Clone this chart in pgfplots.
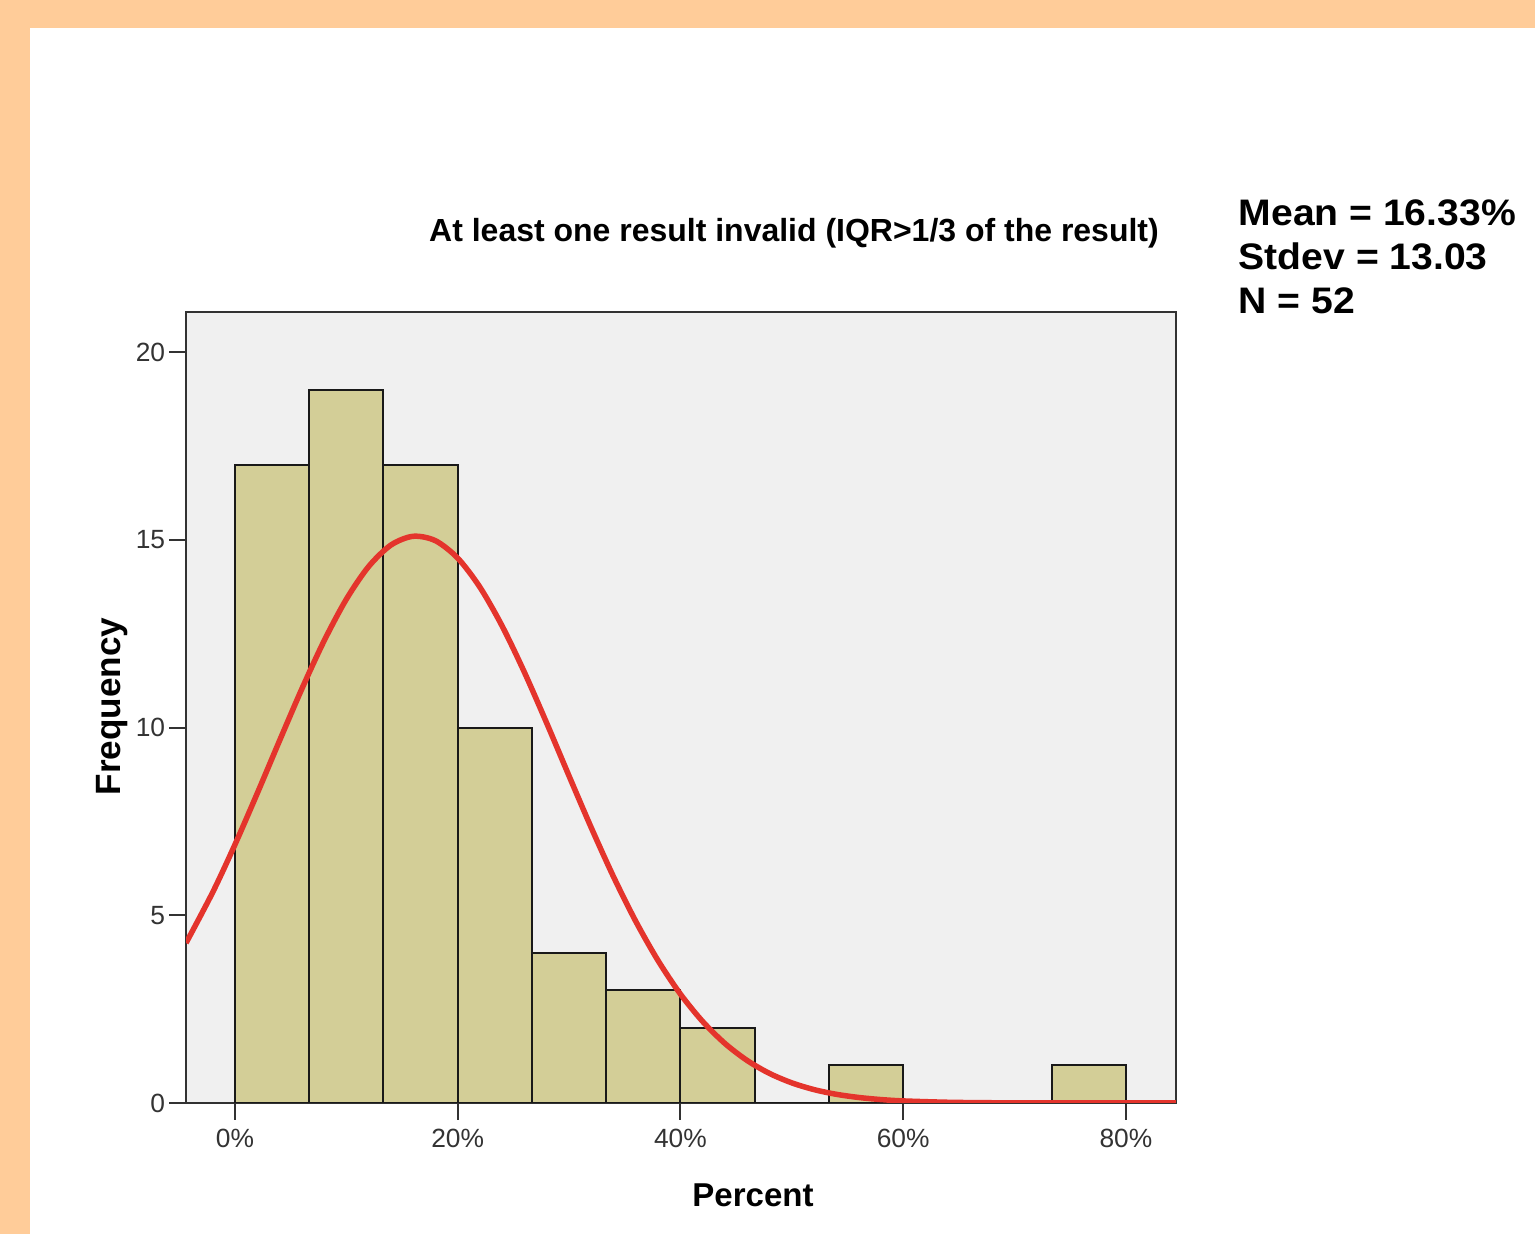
\documentclass[border=0pt]{standalone}
\usepackage{pgfplots}
\pgfplotsset{compat=1.18}
\usepackage{graphicx}
\usepackage{fontspec}
\setmainfont{Liberation Sans}
\definecolor{peach}{RGB}{255,204,153}
\definecolor{bartan}{RGB}{211,206,151}
\definecolor{plotbg}{RGB}{240,240,240}
\definecolor{curvered}{RGB}{228,52,44}
\definecolor{framec}{RGB}{50,50,50}
\begin{document}
\begin{tikzpicture}[x=1mm,y=1mm]
\useasboundingbox (0,0) rectangle (153.5,123.4);
\fill[white] (0,0) rectangle (153.5,123.4);
\fill[peach] (0,120.6) rectangle (153.5,123.4);
\fill[peach] (0,0) rectangle (3.0,123.4);
\begin{axis}[
  at={(18.6mm,13.1mm)}, anchor=south west,
  scale only axis, width=99mm, height=79.1mm,
  xmin=-4.4, xmax=84.5, ymin=0, ymax=21.07,
  axis background/.style={fill=plotbg},
  axis line style={framec, line width=0.2mm},
  tick align=outside, xtick pos=bottom, ytick pos=left,
  major tick length=1.7mm,
  tick style={framec, line width=0.2mm},
  xtick={0,20,40,60,80},
  xticklabels={0\%,20\%,40\%,60\%,80\%},
  ytick={0,5,10,15,20},
  yticklabels={0,5,10,15,20},
  tick label style={font=\fontsize{7.5}{9}\selectfont, text=black!80},
  yticklabel style={xshift=0.85mm},
  xticklabel style={yshift=0.3mm},
  /pgf/number format/assume math mode=true,
]
\addplot[ybar interval, fill=bartan, draw=black!90, line width=0.2mm] coordinates {
  (0,17) (6.667,19) (13.333,17) (20,10) (26.667,4) (33.333,3) (40,2)
  (46.667,0) (53.333,1) (60,0) (66.667,0) (73.333,1) (80,1)};
\addplot[curvered, line width=0.55mm, smooth] coordinates {
  (-4.4,4.26) (-2,5.613) (0,6.885) (2,8.248) (4,9.650) (6,11.028) (8,12.309)
  (10,13.419) (12,14.289) (14,14.861) (16,15.095) (18,14.977) (20,14.513)
  (22,13.736) (24,12.698) (26,11.465) (28,10.112) (30,8.709) (32,7.327)
  (34,6.020) (36,4.832) (38,3.788) (40,2.900) (42,2.169) (44,1.584)
  (46,1.130) (48,0.787) (50,0.536) (52,0.356) (54,0.231) (56,0.147)
  (58,0.091) (60,0.055) (64,0.019) (68,0.006) (72,0.002) (76,0.0005)
  (80,0.0001) (84.5,0)};
\end{axis}
\node[anchor=base, inner sep=0, font=\fontsize{9.1}{11}\selectfont\bfseries] at (79.4,99.2)
  {At least one result invalid (IQR>1/3 of the result)};
\node[anchor=base west, inner sep=0, font=\fontsize{10.5}{12}\selectfont\bfseries] at (123.8,100.8)
  {\scalebox{1.06}[1]{Mean = 16.33\%}};
\node[anchor=base west, inner sep=0, font=\fontsize{10.5}{12}\selectfont\bfseries] at (123.8,96.4)
  {\scalebox{1.06}[1]{Stdev = 13.03}};
\node[anchor=base west, inner sep=0, font=\fontsize{10.5}{12}\selectfont\bfseries] at (123.8,92.0)
  {\scalebox{1.06}[1]{N = 52}};
\node[anchor=base, inner sep=0, font=\fontsize{9.4}{11}\selectfont\bfseries] at (75.3,2.7) {Percent};
\node[rotate=90, anchor=center, inner sep=0, font=\fontsize{10}{12}\selectfont\bfseries] at (11.2,52.75) {Frequency};
\end{tikzpicture}
\end{document}
